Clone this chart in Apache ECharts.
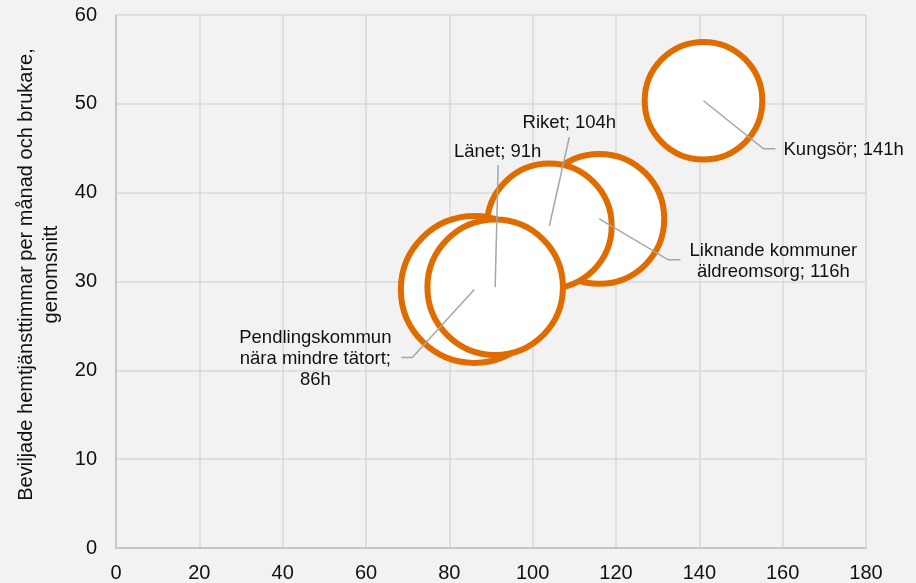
<!DOCTYPE html>
<html lang="sv">
<head>
  <meta charset="UTF-8" />
  <title>Beviljade hemtjänsttimmar</title>
  <script src="https://cdn.jsdelivr.net/npm/echarts@6/dist/echarts.min.js"></script>
  <style>
    html, body { margin: 0; padding: 0; background: #F2F2F2; }
    #chart { width: 916px; height: 583px; }
  </style>
</head>
<body>
  <div id="chart"></div>
  <script>
    // data (drawing order = stacking order)
    const labels = ['Kungsör; 141h', 'Liknande kommuner\näldreomsorg; 116h', 'Riket; 104h',
                    'Pendlingskommun\nnära mindre tätort;\n86h', 'Länet; 91h'];
    const hours = [141, 116, 104, 86, 91];            // x
    const hoursPerUser = [50.35, 37.05, 36.25, 29.1, 29.35]; // y
    const bubbleSize = [64, 78, 72, 100, 85];          // relative bubble value
    const xTicks = { min: 0, max: 180, interval: 20 };
    const yTicks = { min: 0, max: 60, interval: 10 };

    // label placement, pixels relative to bubble centre
    const labelPlace = [
      { elbow: [60, 48], endX: 72, text: [80, 49], align: 'left' },
      { elbow: [69, 41], endX: 81, text: [174, 43], align: 'center' },
      { elbow: [20, -89], endX: 20, text: [20, -103], align: 'center' },
      { elbow: [-62, 68], endX: -73, text: [-159, 69], align: 'center' },
      { elbow: [3, -122], endX: 3, text: [2.5, -135.5], align: 'center' }
    ];

    const font = 'Liberation Sans, Arial, sans-serif';
    const points = hours.map((h, i) => [h, hoursPerUser[i], bubbleSize[i]]);

    const chart = echarts.init(document.getElementById('chart'));
    chart.setOption({
      animation: false,
      backgroundColor: '#F2F2F2',
      grid: { left: 116, right: 50, top: 15, bottom: 35 },
      xAxis: {
        type: 'value', min: xTicks.min, max: xTicks.max, interval: xTicks.interval,
        axisLine: { show: true, lineStyle: { color: '#BFBFBF', width: 1.5 } },
        axisTick: { show: false },
        axisLabel: { color: '#111', fontSize: 20, fontFamily: font, margin: 15 },
        splitLine: { show: true, lineStyle: { color: '#D9D9D9', width: 1.5 } }
      },
      yAxis: {
        type: 'value', min: yTicks.min, max: yTicks.max, interval: yTicks.interval,
        name: 'Beviljade hemtjänsttimmar per månad och brukare,\ngenomsnitt',
        nameLocation: 'middle', nameGap: 44, nameRotate: 90,
        nameTextStyle: { color: '#111', fontSize: 20, fontFamily: font, lineHeight: 25, padding: [0, 0, 0, 14] },
        axisLine: { show: true, lineStyle: { color: '#BFBFBF', width: 1.5 } },
        axisTick: { show: false },
        axisLabel: { color: '#111', fontSize: 20, fontFamily: font, margin: 19 },
        splitLine: { show: true, lineStyle: { color: '#D9D9D9', width: 1.5 } }
      },
      series: [
        {
          type: 'scatter',
          data: points,
          symbol: 'circle',
          symbolSize: v => 147 * Math.sqrt(v[2] / 100),
          itemStyle: { color: '#FFFFFF', borderColor: '#E06C00', borderWidth: 6, opacity: 1 },
          emphasis: { disabled: true },
          z: 2
        },
        {
          type: 'custom',
          data: points,
          z: 5,
          silent: true,
          renderItem: (params, api) => {
            const c = api.coord([api.value(0), api.value(1)]);
            const p = labelPlace[params.dataIndex];
            return {
              type: 'group',
              children: [
                {
                  type: 'polyline',
                  shape: { points: [c, [c[0] + p.elbow[0], c[1] + p.elbow[1]], [c[0] + p.endX, c[1] + p.elbow[1]]] },
                  style: { stroke: '#A6A6A6', lineWidth: 1.5, fill: null }
                },
                {
                  type: 'text',
                  x: c[0] + p.text[0],
                  y: c[1] + p.text[1],
                  style: {
                    text: labels[params.dataIndex],
                    fill: '#111', fontSize: 18.5, fontFamily: font, lineHeight: 21,
                    align: p.align, verticalAlign: 'middle'
                  }
                }
              ]
            };
          }
        }
      ]
    });
  </script>
</body>
</html>
